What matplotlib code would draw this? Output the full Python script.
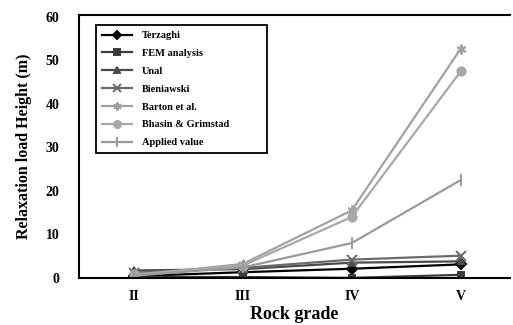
import numpy as np
import matplotlib
matplotlib.use('Agg')
import matplotlib.pyplot as plt

grades = ['II', 'III', 'IV', 'V']

terzaghi = [0.4, 1.3, 2.1, 3.1]
fem = [0.2, 0.2, 0.0, 0.7]
unal = [1.7, 2.0, 3.5, 3.8]
bieniawski = [1.2, 2.3, 4.2, 5.1]
barton = [0.6, 3.2, 15.5, 52.7]
bhasin = [0.8, 2.8, 14.0, 47.5]
applied = [0.5, 2.4, 8.0, 22.5]

plt.rcParams['font.family'] = ['Liberation Serif', 'DejaVu Serif']
plt.rcParams['font.weight'] = 'bold'

fig = plt.figure(figsize=(5.13, 3.25), dpi=100)
ax = fig.add_axes([0.154, 0.145, 0.84, 0.81])

x = np.arange(1, len(grades) + 1)
series = [
    ('Terzaghi', terzaghi, '#000000', 'D', 5),
    ('FEM analysis', fem, '#3c3c3c', 's', 5),
    ('Unal', unal, '#4a4a4a', '^', 5),
    ('Bieniawski', bieniawski, '#6a6a6a', 'x', 7),
    ('Barton et al.', barton, '#a2a2a2', (6, 2, 0), 7),
    ('Bhasin & Grimstad', bhasin, '#a8a8a8', 'o', 6),
    ('Applied value', applied, '#9a9a9a', '|', 8),
]
for name, vals, col, mk, ms in series:
    ax.plot(x, vals, color=col, marker=mk, markersize=ms, linewidth=1.6,
            markeredgewidth=1.4, label=name)

ax.set_xlim(0.5, 4.45)
ax.set_ylim(0, 60.5)
ax.set_xticks(x)
ax.set_xticklabels(grades)
ax.set_yticks(range(0, 61, 10))
ax.tick_params(length=0, labelsize=10)
ax.tick_params(axis='x', pad=9)
ax.tick_params(axis='y', pad=14)
ax.spines['right'].set_visible(False)
for s in ['left', 'bottom', 'top']:
    ax.spines[s].set_linewidth(1.5)

ax.set_xlabel('Rock grade', fontsize=13, fontweight='bold', labelpad=2)
ax.set_ylabel('Relaxation load Height (m)', fontsize=11.5, fontweight='bold', labelpad=10)

leg = ax.legend(loc='upper left', bbox_to_anchor=(0.039, 0.0, 0.397, 0.962),
                mode='expand', fontsize=7.5,
                fancybox=False, edgecolor='black', framealpha=1,
                handlelength=2.9, handletextpad=0.9, labelspacing=0.82,
                borderpad=0.6, borderaxespad=0, markerscale=0.85)
leg.get_frame().set_linewidth(1.3)

fig.savefig('out.png', dpi=100)
